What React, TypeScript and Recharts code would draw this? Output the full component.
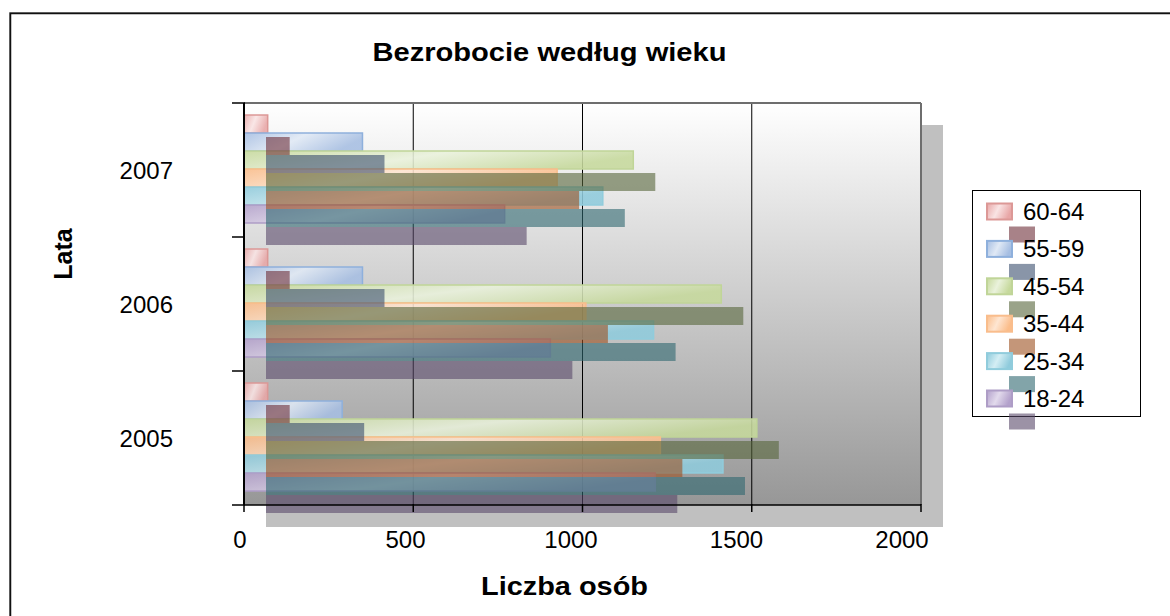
import React from 'react';
import { BarChart, Bar, XAxis, YAxis, CartesianGrid, ReferenceLine, Legend } from 'recharts';

// ---------- data ----------
const years = ['2007', '2006', '2005'];
const seriesNames = ['60-64', '55-59', '45-54', '35-44', '25-34', '18-24'];
const v6064 = [70, 70, 70];
const v5559 = [350, 350, 290];
const v4554 = [1150, 1410, 1515];
const v3544 = [925, 1010, 1230];
const v2534 = [1060, 1210, 1415];
const v1824 = [770, 905, 1215];
const xTicks = [0, 500, 1000, 1500, 2000];

const seriesValues = [v6064, v5559, v4554, v3544, v2534, v1824];
const data = years.map((y, i) => {
  const row: any = { year: y };
  seriesNames.forEach((n, k) => {
    row[n] = seriesValues[k][i];
  });
  return row;
});

// ---------- styles ----------
const STYLES = [
  { base: '#e8a6a6', light: '#f9e4e4', stroke: '#dc9896', shadow: '#6e2e38' },
  { base: '#a6bee2', light: '#e0e9f5', stroke: '#8eb0dc', shadow: '#3a4e6e' },
  { base: '#c6d99c', light: '#eaf2dc', stroke: '#c0d598', shadow: '#56663a' },
  { base: '#fbbd8a', light: '#fee6d2', stroke: '#f9bd8c', shadow: '#9c5020' },
  { base: '#8fcbdc', light: '#d4eef4', stroke: '#90ccdc', shadow: '#2e6870' },
  { base: '#b3a1cb', light: '#e2daec', stroke: '#ae9dc6', shadow: '#5a4a6a' },
];

const W = 1170;
const H = 616;
const PLOT_L = 244;
const PLOT_T = 103;
const PLOT_R = 921;
const PLOT_B = 505;
const SH_DX = 22;
const SH_DY = 22;
const AX = 1; // thickness reserved for each visible axis
const FONT = 'Liberation Sans, Arial, Helvetica, sans-serif';
const MARGIN_A = { top: PLOT_T, left: PLOT_L, right: W - PLOT_R, bottom: H - PLOT_B };
const MARGIN_B = { top: PLOT_T - AX, left: PLOT_L - AX, right: W - PLOT_R, bottom: H - PLOT_B - AX };

const MainRect = (props: any) => {
  const { x, y, width, height, si } = props;
  if (!width || width <= 0) return null;
  const st = STYLES[si];
  return (
    <rect
      x={x}
      y={y}
      width={width}
      height={height}
      fill={`url(#g${si})`}
      fillOpacity={0.88}
      stroke={st.stroke}
      strokeWidth={1.5}
    />
  );
};

const ShadowRect = (props: any) => {
  const { x, y, width, height, si } = props;
  if (!width || width <= 0) return null;
  const st = STYLES[si];
  return (
    <rect
      x={x + SH_DX}
      y={y + SH_DY}
      width={width}
      height={height}
      fill={st.shadow}
      fillOpacity={0.6}
    />
  );
};

const XTick = (p: any) => {
  const { x, y, payload, index } = p;
  const ax = y - AX;
  const lx = x - 4 - (15 * index) / (xTicks.length - 1);
  return (
    <g>
      <line x1={x} x2={x} y1={ax} y2={ax + 8} stroke="#000" strokeWidth={1.5} />
      <text x={lx} y={ax + 44} textAnchor="middle" fontSize={24} fontFamily={FONT} fill="#000">
        {payload.value}
      </text>
    </g>
  );
};

const YTick = (p: any) => {
  const { x, y, payload, index } = p;
  const ax = x + AX;
  const half = (PLOT_B - PLOT_T) / years.length / 2;
  return (
    <g>
      <line x1={ax - 13} x2={ax} y1={y - half} y2={y - half} stroke="#000" strokeWidth={1.5} />
      {index === years.length - 1 && (
        <line x1={ax - 13} x2={ax} y1={y + half} y2={y + half} stroke="#000" strokeWidth={1.5} />
      )}
      <text x={ax - 72} y={y + 8.5} textAnchor="end" fontSize={24} fontFamily={FONT} fill="#000">
        {payload.value}
      </text>
    </g>
  );
};

const LegendContent = () => (
  <svg width={175} height={250} style={{ display: 'block', overflow: 'visible' }}>
    <rect x={0.5} y={0.5} width={168} height={226} fill="#fff" stroke="#000" strokeWidth={1} />
    {seriesNames.map((n, i) => {
      const cy = 21.5 + 37.4 * i;
      const st = STYLES[i];
      return (
        <g key={n}>
          <rect x={15} y={cy - 8} width={25} height={16} fill={`url(#g${i})`} stroke={st.stroke} strokeWidth={2} />
          <rect x={37} y={cy + 15} width={26} height={16} fill={st.shadow} fillOpacity={0.6} />
          <text x={51} y={cy + 8.5} fontSize={24} fontFamily={FONT} fill="#000">
            {n}
          </text>
        </g>
      );
    })}
  </svg>
);

export default function App() {
  return (
    <div style={{ position: 'absolute', left: 0, top: 0, width: W, height: H, background: '#fff', overflow: 'hidden' }}>
      {/* base layer: frame, plot shadow, titles */}
      <svg width={W} height={H} style={{ position: 'absolute', left: 0, top: 0 }}>
        <path d={`M9.5 ${H} V12.5 H${W}`} stroke="#777" strokeWidth={1} fill="none" />
        <path d={`M10.5 ${H} V13.5 H${W}`} stroke="#111" strokeWidth={1.5} fill="none" />
        <rect
          x={PLOT_L + SH_DX}
          y={PLOT_T + SH_DY}
          width={PLOT_R - PLOT_L}
          height={PLOT_B - PLOT_T}
          fill="#c0c0c0"
        />
        <text
          x={549.5}
          y={61}
          textAnchor="middle"
          fontSize={25}
          fontWeight="bold"
          fontFamily={FONT}
          textLength={354}
          lengthAdjust="spacingAndGlyphs"
        >
          Bezrobocie według wieku
        </text>
        <text
          x={564.5}
          y={595}
          textAnchor="middle"
          fontSize={25}
          fontWeight="bold"
          fontFamily={FONT}
          textLength={167}
          lengthAdjust="spacingAndGlyphs"
        >
          Liczba osób
        </text>
        <text
          transform="translate(72,254) rotate(-90)"
          x={0}
          y={0}
          textAnchor="middle"
          fontSize={25}
          fontWeight="bold"
          fontFamily={FONT}
        >
          Lata
        </text>
      </svg>

      {/* chart A: background, grid, main bars */}
      <div style={{ position: 'absolute', left: 0, top: 0 }}>
        <BarChart width={W} height={H} data={data} layout="vertical" margin={MARGIN_A} barCategoryGap={12} barGap={0}>
          <defs>
            <linearGradient id="plotBg" x1="0" y1="0" x2="0" y2="1">
              <stop offset="0%" stopColor="#ffffff" />
              <stop offset="100%" stopColor="#979797" />
            </linearGradient>
            {STYLES.map((s, i) => (
              <linearGradient key={i} id={`g${i}`} x1="0" y1="0" x2="1" y2="0.3">
                <stop offset="0%" stopColor={s.base} />
                <stop offset="50%" stopColor={s.light} />
                <stop offset="100%" stopColor={s.base} />
              </linearGradient>
            ))}
          </defs>
          <CartesianGrid horizontal={false} vertical={true} stroke="#000" strokeWidth={1} fill="url(#plotBg)" fillOpacity={1} />
          <XAxis type="number" domain={[0, 2000]} ticks={xTicks} hide />
          <YAxis type="category" dataKey="year" hide />
          {seriesNames.map((n, k) => (
            <Bar key={n} dataKey={n} isAnimationActive={false} shape={(p: any) => <MainRect {...p} si={k} />} />
          ))}
        </BarChart>
      </div>

      {/* chart B: shadows, axes, borders, legend */}
      <div style={{ position: 'absolute', left: 0, top: 0 }}>
        <BarChart width={W} height={H} data={data} layout="vertical" margin={MARGIN_B} barCategoryGap={12} barGap={0}>
          {seriesNames.map((n, k) => (
            <Bar key={n} dataKey={n} isAnimationActive={false} shape={(p: any) => <ShadowRect {...p} si={k} />} />
          ))}
          <ReferenceLine x={2000} stroke="#6e6e6e" strokeWidth={2} />
          <XAxis
            xAxisId="top"
            orientation="top"
            type="number"
            domain={[0, 2000]}
            height={AX}
            tick={false}
            tickLine={false}
            axisLine={{ stroke: '#6e6e6e', strokeWidth: 2 }}
          />
          <XAxis
            type="number"
            domain={[0, 2000]}
            ticks={xTicks}
            interval={0}
            height={AX}
            tickSize={0}
            tickMargin={0}
            tickLine={false}
            axisLine={{ stroke: '#000', strokeWidth: 1.5 }}
            tick={<XTick />}
          />
          <YAxis
            type="category"
            dataKey="year"
            width={AX}
            interval={0}
            tickSize={0}
            tickMargin={0}
            tickLine={false}
            axisLine={{ stroke: '#000', strokeWidth: 2 }}
            tick={<YTick />}
          />
          <Legend
            layout="vertical"
            align="center"
            verticalAlign="middle"
            content={<LegendContent />}
            wrapperStyle={{ left: 972, top: 190, width: 175, height: 250 }}
          />
        </BarChart>
      </div>
    </div>
  );
}
